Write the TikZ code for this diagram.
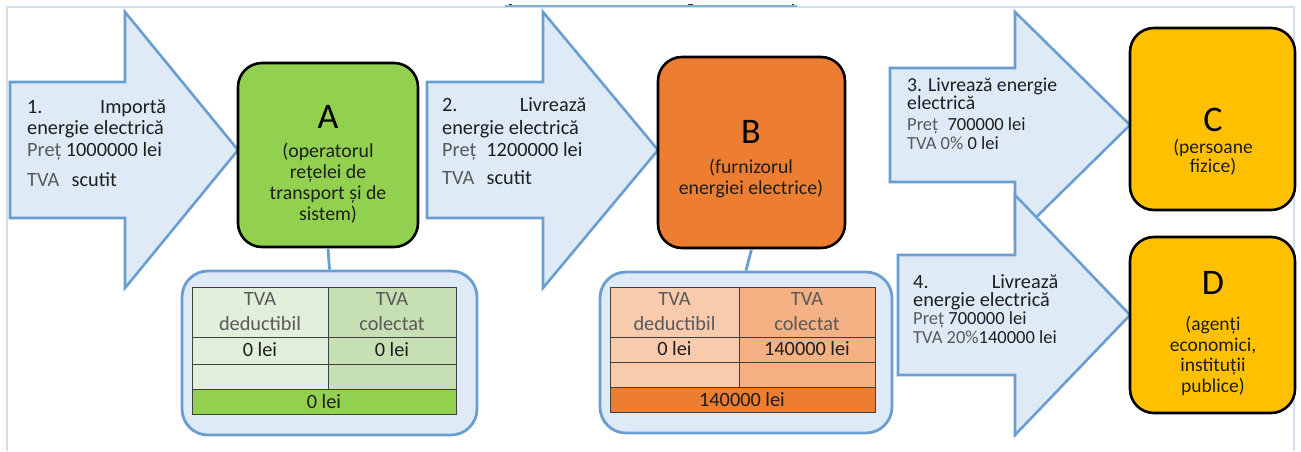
\documentclass[tikz,border=0pt]{standalone}
\usepackage{fontspec}
\setmainfont{Carlito}
\definecolor{arrfill}{HTML}{DEEBF7}
\definecolor{arrline}{HTML}{6A9ED2}
\definecolor{cgreen}{HTML}{92D050}
\definecolor{corange}{HTML}{ED7D31}
\definecolor{cyellow}{HTML}{FFC000}
\definecolor{gA}{HTML}{E2EFDA}
\definecolor{gB}{HTML}{C6E0B4}
\definecolor{oA}{HTML}{F8CBAD}
\definecolor{oB}{HTML}{F4B183}
\definecolor{tgray}{HTML}{595959}
\definecolor{tdark}{HTML}{1E1E1E}
\definecolor{framec}{HTML}{D3DFEA}
\newcommand\blockarrow[6]{%
  \draw[arrowst] ({#1},{#4-#5}) -- ({#2},{#4-#5}) -- ({#2},{#4-#6}) -- ({#3},{#4})
    -- ({#2},{#4+#6}) -- ({#2},{#4+#5}) -- ({#1},{#4+#5}) -- cycle;}
\tikzset{
  arrowst/.style={fill=arrfill, draw=arrline, line width=2.6pt, line join=miter},
  entity/.style={draw=black, line width=2.6pt, rounded corners=24pt, inner sep=0pt},
  tablebox/.style={fill=arrfill, draw=arrline, line width=2.8pt, rounded corners=26pt, inner sep=0pt},
  conn/.style={draw=arrline, line width=2.8pt},
  txt/.style={anchor=base west, inner sep=0pt, text=tdark, font=\fontsize{20.3}{22}\selectfont},
  stxt/.style={anchor=base west, inner sep=0pt, text=tdark, font=\fontsize{18.5}{20}\selectfont},
  big/.style={inner sep=0pt, font=\fontsize{36}{38}\selectfont, text=black},
  sub/.style={inner sep=0pt, align=center, text=tdark, font=\fontsize{19.8}{21}\selectfont},
  cell/.style={draw=black!75, line width=0.7pt},
  ctxt/.style={inner sep=0pt, align=center, font=\fontsize{20.3}{25}\selectfont},
  tick/.style={draw=black!80, line width=1.6pt},
}
\begin{document}
\begin{tikzpicture}[x=1pt,y=-1pt]
\useasboundingbox (0,0) rectangle (1301,451);
% faint frame and top strip
\draw[framec, line width=1.2pt] (7,451) -- (7,7) -- (1294,7) -- (1294,451);
\draw[arrline!85, line width=2pt] (505,6) -- (797,6);
\draw[tick] (509,4.5) -- (512,4.5);
\draw[tick] (688,4.5) -- (693,4.5);
\draw[tick] (792,4.5) -- (794,4.5);
% arrows
\blockarrow{10}{125}{238}{150}{68}{138}
\blockarrow{427}{543}{658}{150}{68}{138}
\blockarrow{890}{1015}{1130}{125}{57}{113}
\blockarrow{898}{1015}{1130}{315}{60}{120}
% entities
\node[entity, fill=cgreen, minimum width=180pt, minimum height=184pt] (A) at (328,155) {};
\node[entity, fill=corange, minimum width=187pt, minimum height=191pt] (B) at (751.5,152.5) {};
\node[entity, fill=cyellow, minimum width=165pt, minimum height=182pt] (C) at (1212.5,119) {};
\node[entity, fill=cyellow, minimum width=165pt, minimum height=176pt] (D) at (1212.5,325) {};
\node[big] (Al) at (328,117) {A};
\node[sub] (As) at (328,183) {(operatorul\\rețelei de\\transport și de\\sistem)};
\node[big] (Bl) at (751,132) {B};
\node[sub] (Bs) at (751,178) {(furnizorul\\energiei electrice)};
\node[big] (Cl) at (1213,120) {C};
\node[sub, font=\fontsize{19.5}{19}\selectfont] (Cs) at (1213,157) {(persoane\\fizice)};
\node[big] (Dl) at (1213,283) {D};
\node[sub, font=\fontsize{19.5}{20.5}\selectfont] (Ds) at (1213,356) {(agenți\\economici,\\instituții\\publice)};
% arrow texts
\node[txt] (t1a) at (27,113) {\hbox to 139pt{1.\hfill Importă}};
\node[txt] (t1b) at (27,134) {energie electrică};
\node[txt] (t1c) at (27,156) {\textcolor{tgray}{Preț} 1000000 lei};
\node[txt] (t1d) at (27,186) {\textcolor{tgray}{TVA}\hspace{0.6em}scutit};
\node[txt] (t2a) at (442,111) {\hbox to 144pt{2.\hfill Livrează}};
\node[txt] (t2b) at (442,134) {energie electrică};
\node[txt] (t2c) at (442,156) {\textcolor{tgray}{Preț}\hspace{0.5em}1200000 lei};
\node[txt] (t2d) at (442,184) {\textcolor{tgray}{TVA}\hspace{0.6em}scutit};
\node[txt, font=\fontsize{19.7}{20}\selectfont] (t3a) at (907,91) {3. Livrează energie};
\node[txt, font=\fontsize{19.7}{20}\selectfont] (t3b) at (907,109) {electrică};
\node[stxt] (t3c) at (907,130) {\textcolor{tgray}{Preț}\hspace{0.5em}700000 lei};
\node[stxt] (t3d) at (907,149) {\textcolor{tgray}{TVA 0\%} 0 lei};
\node[txt] (t4a) at (913,288) {\hbox to 145pt{4.\hfill Livrează}};
\node[txt] (t4b) at (913,306) {energie electrică};
\node[stxt] (t4c) at (913,324) {\textcolor{tgray}{Preț} 700000 lei};
\node[stxt] (t4d) at (913,343) {\textcolor{tgray}{TVA 20\%}140000 lei};
% table boxes
\node[tablebox, minimum width=295pt, minimum height=164pt] (TA) at (329.5,353) {};
\node[tablebox, minimum width=292pt, minimum height=161pt] (TB) at (746,352.5) {};
\draw[conn] (A.south) -- (TA.north);
\draw[conn] (B.south) -- (TB.north);
% table A
\fill[gA] (192,287) rectangle (328,389);
\fill[gB] (328,287) rectangle (456,389);
\fill[cgreen] (192,389) rectangle (456,414);
\draw[cell] (192,287) rectangle (456,414);
\draw[cell] (192,337) -- (456,337) (192,364) -- (456,364) (192,389) -- (456,389) (328,287) -- (328,389);
\node[ctxt, text=tgray] (ta1) at (260,312) {TVA\\deductibil};
\node[ctxt, text=tgray] (ta2) at (392,312) {TVA\\colectat};
\node[ctxt, text=tdark] (ta3) at (260,350) {0 lei};
\node[ctxt, text=tdark] (ta4) at (392,350) {0 lei};
\node[ctxt, text=tdark] (ta5) at (324,402) {0 lei};
% table B
\fill[oA] (610,287) rectangle (739,387);
\fill[oB] (739,287) rectangle (875,387);
\fill[corange] (610,387) rectangle (875,412);
\draw[cell] (610,287) rectangle (875,412);
\draw[cell] (610,337) -- (875,337) (610,362) -- (875,362) (610,387) -- (875,387) (739,287) -- (739,387);
\node[ctxt, text=tgray] (tb1) at (674.5,312) {TVA\\deductibil};
\node[ctxt, text=tgray] (tb2) at (807,312) {TVA\\colectat};
\node[ctxt, text=tdark] (tb3) at (674.5,349) {0 lei};
\node[ctxt, text=tdark] (tb4) at (807,349) {140000 lei};
\node[ctxt, text=tdark] (tb5) at (742,400) {140000 lei};
\end{tikzpicture}
\end{document}
